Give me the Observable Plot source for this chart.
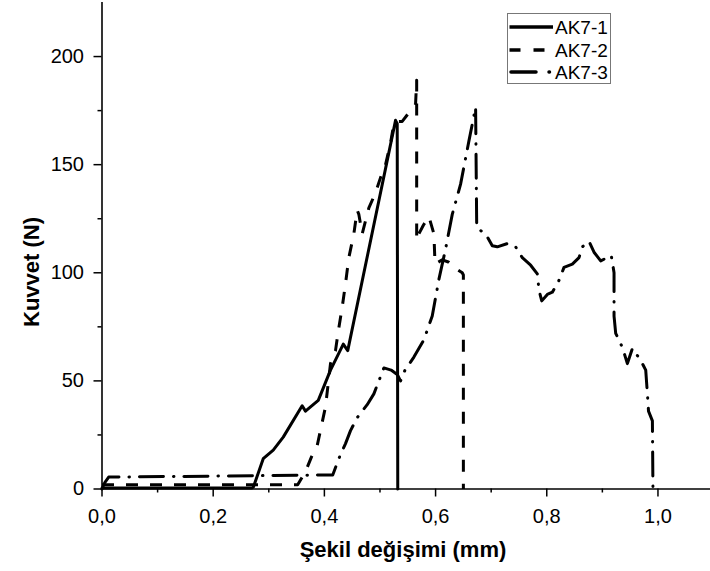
<!DOCTYPE html>
<html><head><meta charset="utf-8">
<script src="https://cdn.jsdelivr.net/npm/d3@7"></script>
<script src="https://cdn.jsdelivr.net/npm/@observablehq/plot@0.6"></script>
<style>body{margin:0;background:#fff} #chart svg{display:block}</style>
</head><body><div id="chart"></div>
<script>
// ---- data ----
const seriesNames = ["AK7-1", "AK7-2", "AK7-3"];

const ak1X = [0, 0.27, 0.2725, 0.29, 0.308, 0.326, 0.36, 0.366, 0.389, 0.411, 0.434, 0.442, 0.528, 0.531, 0.532];
const ak1Y = [0.5, 0.5, 1, 14, 18, 24, 38.5, 36, 41, 55, 67, 64, 170.5, 169, 0];

const ak2X = [0, 0.352, 0.366, 0.377, 0.387, 0.402, 0.411, 0.42, 0.425, 0.432, 0.438, 0.444, 0.453, 0.459, 0.462, 0.468, 0.48, 0.492, 0.501, 0.51, 0.519, 0.525, 0.531, 0.54, 0.555, 0.564, 0.566, 0.566, 0.57, 0.578, 0.588, 0.597, 0.599, 0.612, 0.623, 0.636, 0.648, 0.65, 0.65];
const ak2Y = [2, 2, 8, 15, 20, 38, 58, 64, 73, 84, 95, 107, 118, 129, 127, 118, 130, 137, 144, 150, 160, 169, 170, 170, 175, 178, 189, 115, 118, 122, 126, 118, 104, 106, 105, 102, 100, 99, 0];

const ak3X = [0, 0.005, 0.012, 0.415, 0.429, 0.438, 0.447, 0.459, 0.477, 0.489, 0.507, 0.52, 0.531, 0.537, 0.545, 0.561, 0.579, 0.594, 0.606, 0.618, 0.63, 0.645, 0.66, 0.672, 0.674, 0.678, 0.69, 0.702, 0.711, 0.729, 0.744, 0.756, 0.771, 0.783, 0.786, 0.791, 0.801, 0.81, 0.822, 0.831, 0.846, 0.858, 0.864, 0.876, 0.885, 0.897, 0.916, 0.921, 0.921, 0.924, 0.936, 0.945, 0.954, 0.969, 0.978, 0.981, 0.983, 0.99, 0.991];
const ak3Y = [0, 3, 5.5, 6.5, 16, 21, 27, 33, 39, 44, 56, 55, 53, 50, 55, 61, 69, 80, 97, 111, 127, 141, 161, 176.5, 121, 120, 118, 112.5, 112, 113.5, 112, 107, 103.5, 99.5, 92, 87, 90, 91, 96.5, 102.5, 104, 107, 112, 114.5, 109.5, 105.5, 108, 100, 80, 72, 65.5, 58, 65, 59.5, 55, 44, 36, 31.5, 0];

const xMajorTicks = [0, 0.2, 0.4, 0.6, 0.8, 1.0];
const xMinorTicks = [0.1, 0.3, 0.5, 0.7, 0.9];
const yMajorTicks = [0, 50, 100, 150, 200];
const yMinorTicks = [25, 75, 125, 175];
const xTitle = "Şekil değişimi (mm)";
const yTitle = "Kuvvet (N)";

// ---- build ----
const toRows = (xs, ys, name) => xs.map((x, i) => ({x, y: ys[i], name}));
const rows1 = toRows(ak1X, ak1Y, seriesNames[0]);
const rows2 = toRows(ak2X, ak2Y, seriesNames[1]);
const rows3 = toRows(ak3X, ak3Y, seriesNames[2]);
const fmtX = d => d.toFixed(1).replace(".", ",");
const FONT = "'Liberation Sans', Arial, Helvetica, sans-serif";
const dashStyle = "12,12";
const dashDotStyle = "24,10,0.5,10";

const chart = Plot.plot({
  width: 710, height: 571,
  marginLeft: 101.5, marginRight: 0, marginTop: 2, marginBottom: 82.5,
  style: {fontFamily: FONT, fontSize: "20px", color: "#000", background: "#fff"},
  x: {domain: [0, 1.0945]},
  y: {domain: [0, 225]},
  marks: [
    Plot.axisX({ticks: xMajorTicks, tickSize: 8, tickPadding: 12, tickFormat: fmtX, label: null, strokeWidth: 1.5, fontSize: 20}),
    Plot.axisX({ticks: xMinorTicks, tickSize: 4, tickFormat: () => "", label: null, strokeWidth: 1.5}),
    Plot.axisY({ticks: yMajorTicks, tickSize: 8, tickPadding: 10, tickFormat: d => String(d), label: null, strokeWidth: 1.5, fontSize: 20}),
    Plot.axisY({ticks: yMinorTicks, tickSize: 4, tickFormat: () => "", label: null, strokeWidth: 1.5}),
    Plot.line(rows3, {x: "x", y: "y", stroke: "#000", strokeWidth: 3, strokeDasharray: dashDotStyle, strokeLinecap: "round", strokeLinejoin: "round"}),
    Plot.line(rows2, {x: "x", y: "y", stroke: "#000", strokeWidth: 3, strokeDasharray: dashStyle, strokeLinecap: "butt", strokeLinejoin: "round"}),
    Plot.line(rows1, {x: "x", y: "y", stroke: "#000", strokeWidth: 3, strokeLinejoin: "round"}),
    Plot.ruleX([0], {stroke: "#000", strokeWidth: 1.6}),
    Plot.ruleY([0], {stroke: "#000", strokeWidth: 1.6})
  ]
});

const svg = d3.select(chart);
svg.style("overflow", "hidden");
// axis titles
svg.append("text").attr("x", 403).attr("y", 557).attr("text-anchor", "middle")
  .attr("font-family", FONT).attr("font-weight", "bold").attr("font-size", 22).attr("fill", "#000").text(xTitle);
svg.append("text").attr("transform", "translate(39,272) rotate(-90)").attr("text-anchor", "middle")
  .attr("font-family", FONT).attr("font-weight", "bold").attr("font-size", 22).attr("fill", "#000").text(yTitle);

// legend
const lg = svg.append("g");
lg.append("rect").attr("x", 507.5).attr("y", 13.5).attr("width", 103).attr("height", 70)
  .attr("fill", "#fff").attr("stroke", "#777").attr("stroke-width", 1);
const legendY = [27, 50, 72];
const legendDash = [null, "11,13", "25,13,0.5,100"];
const legendCap = ["butt", "butt", "round"];
seriesNames.forEach((name, i) => {
  const x0 = i === 2 ? 511 : 509.5, x1 = i === 2 ? 551 : 553;
  const ln = lg.append("line").attr("x1", x0).attr("x2", x1).attr("y1", legendY[i]).attr("y2", legendY[i])
    .attr("stroke", "#000").attr("stroke-width", 3.5).attr("stroke-linecap", legendCap[i]);
  if (legendDash[i]) ln.attr("stroke-dasharray", legendDash[i]);
  lg.append("text").attr("x", 555).attr("y", legendY[i]).attr("dy", "0.36em").attr("text-anchor", "start")
    .attr("font-family", FONT).attr("font-size", 19).attr("fill", "#000").text(name);
});

document.getElementById("chart").appendChild(chart);
</script>
</body></html>
